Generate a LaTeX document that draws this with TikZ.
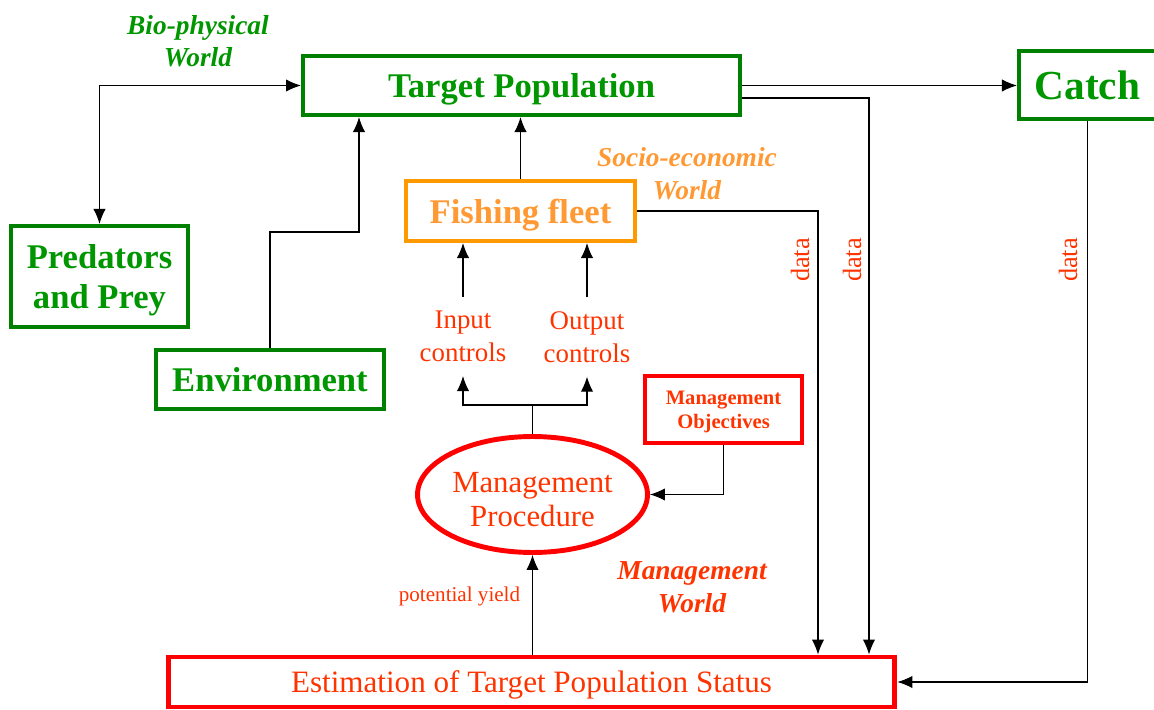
\documentclass[tikz,border=0pt]{standalone}
\usepackage{fontspec}
\setmainfont{Liberation Serif}
\usetikzlibrary{arrows.meta,shapes.geometric}

\definecolor{biogreen}{RGB}{0,128,0}
\definecolor{biotext}{RGB}{0,150,0}
\definecolor{socioorange}{RGB}{255,153,0}
\definecolor{sociotext}{RGB}{255,153,51}
\definecolor{mgmtred}{RGB}{255,0,0}
\definecolor{mgmttext}{RGB}{255,51,0}

\begin{document}
\begin{tikzpicture}[x=0.02cm,y=-0.02cm,
    box/.style={draw,line width=2.4pt,align=center,inner sep=0pt,text depth=0pt},
    bio/.style={box,draw=biogreen,text=biotext,font=\bfseries\fontsize{19.7}{22.7}\selectfont},
    socio/.style={box,draw=socioorange,text=sociotext,font=\bfseries\fontsize{19.7}{22.7}\selectfont},
    mgmt/.style={box,draw=mgmtred,line width=2.8pt,text=mgmttext},
    world/.style={font=\bfseries\itshape\fontsize{15.6}{18.5}\selectfont,align=center,text depth=0pt},
    ctl/.style={text=mgmttext,font=\fontsize{15.3}{18.7}\selectfont,align=center,inner sep=8pt,text depth=0pt},
    datalabel/.style={text=mgmttext,font=\fontsize{15}{18}\selectfont,rotate=90},
    arr/.style={-{Latex[length=8.5pt,width=7pt]},line width=0.6pt},
    arrboth/.style={{Latex[length=8.5pt,width=7pt]}-{Latex[length=8.5pt,width=7pt]},line width=0.6pt}]

  \useasboundingbox (0,0) rectangle (1154,710);

  % Bio-physical world
  \node[world,text=biotext] (bioworld) at (198,41) {Bio-physical\\World};
  \node[bio,minimum width=8.74cm,minimum height=1.18cm] (tp) at (521.5,85.5) {Target Population};
  \node[bio,minimum width=2.74cm,minimum height=1.36cm,font=\bfseries\fontsize{23.5}{27}\selectfont] (catch) at (1087.5,85) {Catch};
  \node[bio,minimum width=3.54cm,minimum height=2.02cm] (pp) at (99.5,276.5) {Predators\\and Prey};
  \node[bio,minimum width=4.56cm,minimum height=1.18cm] (env) at (270,379.5) {Environment};

  % Socio-economic world
  \node[world,text=sociotext] (socioworld) at (687,173.5) {Socio-economic\\World};
  \node[socio,minimum width=4.58cm,minimum height=1.2cm] (fleet) at (520.5,211) {Fishing fleet};
  \node[ctl] (inctl) at (463,336.5) {Input\\controls};
  \node[ctl] (outctl) at (587,337) {Output\\controls};

  % Management world
  \node[mgmt,minimum width=3.14cm,minimum height=1.34cm,font=\bfseries\fontsize{11.7}{13.6}\selectfont] (mo) at (723.5,409.5) {Management\\Objectives};
  \node[mgmt,ellipse,minimum width=4.6cm,minimum height=2.32cm,text height=1.3cm,font=\fontsize{17.5}{19.8}\selectfont] (mp) at (532.5,494.5) {Management\\Procedure};
  \node[world,text=mgmttext] (mgmtworld) at (692,587) {Management\\World};
  \node[mgmt,minimum width=14.54cm,minimum height=1cm,font=\fontsize{17.7}{21}\selectfont] (est) at (531.5,682) {Estimation of Target Population Status};
  \node[text=mgmttext,font=\fontsize{12}{14}\selectfont] (yield) at (459.5,596) {potential yield};

  % Data labels
  \node[datalabel] (fleetlbl) at (800,260) {data};
  \node[datalabel] (tplbl) at (852,260) {data};
  \node[datalabel] (catchlbl) at (1068,260) {data};

  % Bend points
  \coordinate (envbend) at (359,232);
  \coordinate (split) at (532.5,405);
  \coordinate (tpdata) at (869,98);
  \coordinate (fleetdata) at (818,211);

  % Draw links to the target population
  \draw[arrboth] (pp.north) |- (tp.west);
  \draw[arr] (env.north) |- (envbend) -- (envbend |- tp.south);
  \draw[arr] (fleet.north) -- (fleet.north |- tp.south);
  \draw[arr] (tp.east) -- (tp.east -| catch.west);

  % Draw controls
  \draw[arr] (inctl.north) -- (inctl.north |- fleet.south);
  \draw[arr] (outctl.north) -- (outctl.north |- fleet.south);
  \draw[line width=0.6pt] (mp.north) -- (split);
  \draw[arr] (split) -| (inctl.south);
  \draw[arr] (split) -| (outctl.south);
  \draw[arr] (mo.south) |- (mp.east);
  \draw[arr] (est.north -| mp.south) -- (mp.south);

  % Draw data lines
  \draw[arr] (fleet.east) -- (fleetdata) -- (fleetdata |- est.north);
  \draw[arr] (tp.east |- tpdata) -- (tpdata) -- (tpdata |- est.north);
  \draw[arr] (catch.south) |- (est.east);
\end{tikzpicture}
\end{document}
